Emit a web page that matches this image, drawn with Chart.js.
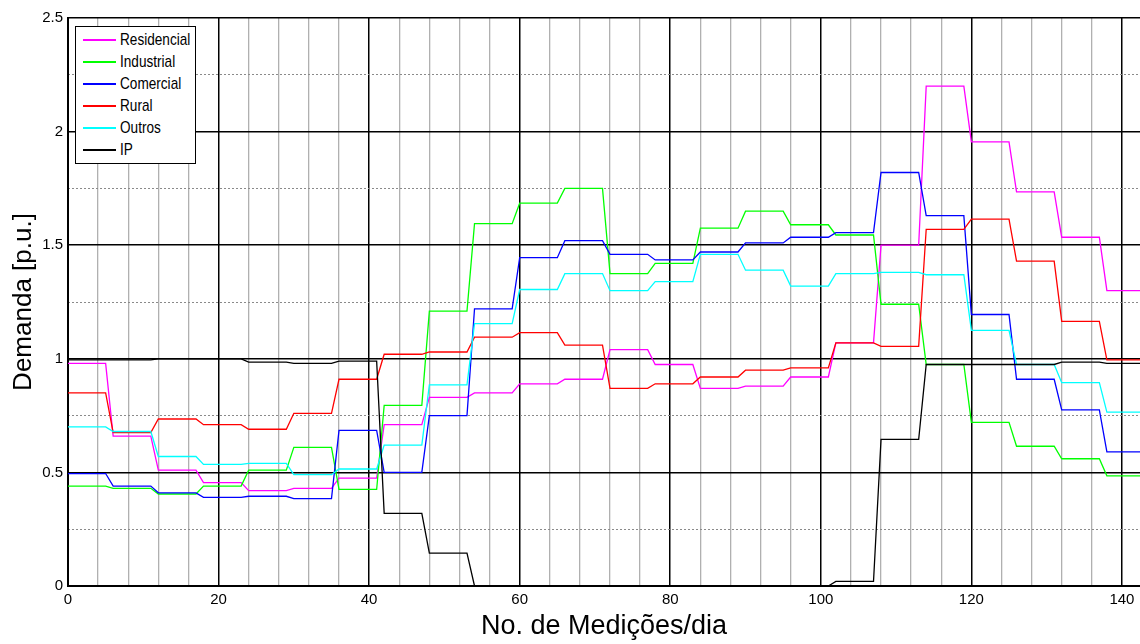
<!DOCTYPE html>
<html>
<head>
<meta charset="utf-8">
<script src="https://cdn.jsdelivr.net/npm/chart.js@4.4.1/dist/chart.umd.min.js"></script>
<style>
  html, body { margin: 0; padding: 0; background: #fff; }
  #wrap { position: relative; width: 1140px; height: 644px; }
  #legend { position: absolute; left: 75px; top: 26px; width: 119px; height: 136px;
            border: 1.5px solid #000; background: #fff;
            font-family: "Liberation Sans", Arial, sans-serif; }
  .row { position: absolute; left: 0; width: 119px; height: 22px; }
  .row .ln { position: absolute; left: 7px; width: 33px; top: 10px; height: 2px; }
  .row .tx { position: absolute; left: 44px; top: 0; font-size: 17px; line-height: 22px;
             transform: scaleX(0.8); transform-origin: left center; white-space: nowrap; color: #000; }
</style>
</head>
<body>
<div id="wrap">
  <canvas id="demandChart" width="1140" height="644"></canvas>
  <div id="legend"></div>
</div>
<script>
// one value per hour, 6 measurements per hour (144 per day)
const seriesNames = ['Residencial', 'Industrial', 'Comercial', 'Rural', 'Outros', 'IP'];
const hourStart = [0, 6, 12, 18, 24, 30, 36, 42, 48, 54, 60, 66,
                   72, 78, 84, 90, 96, 102, 108, 114, 120, 126, 132, 138];

const residencial = [0.98, 0.66, 0.51, 0.455, 0.42, 0.43, 0.475, 0.71, 0.83, 0.85, 0.89, 0.91,
                     1.04, 0.975, 0.87, 0.88, 0.92, 1.07, 1.50, 2.20, 1.955, 1.735, 1.535, 1.30];
const industrial  = [0.44, 0.43, 0.405, 0.44, 0.51, 0.61, 0.425, 0.795, 1.21, 1.595, 1.685, 1.75,
                     1.375, 1.42, 1.575, 1.65, 1.59, 1.545, 1.24, 0.975, 0.72, 0.615, 0.56, 0.485];
const comercial   = [0.495, 0.44, 0.41, 0.39, 0.395, 0.385, 0.685, 0.50, 0.75, 1.22, 1.445, 1.52,
                     1.46, 1.435, 1.47, 1.51, 1.535, 1.555, 1.82, 1.63, 1.195, 0.91, 0.775, 0.59];
const rural       = [0.85, 0.675, 0.735, 0.71, 0.69, 0.76, 0.91, 1.02, 1.03, 1.095, 1.115, 1.06,
                     0.87, 0.89, 0.92, 0.95, 0.96, 1.07, 1.055, 1.57, 1.615, 1.43, 1.165, 0.995];
const outros      = [0.70, 0.68, 0.57, 0.535, 0.54, 0.49, 0.515, 0.62, 0.885, 1.155, 1.305, 1.375,
                     1.30, 1.34, 1.46, 1.39, 1.32, 1.375, 1.38, 1.37, 1.125, 0.975, 0.895, 0.765];
const ip          = [0.995, 0.995, 1.0, 1.0, 0.985, 0.98, 0.99, 0.32, 0.145, 0, 0, 0,
                     0, 0, 0, 0, 0, 0.02, 0.645, 0.975, 0.975, 0.975, 0.985, 0.98];

const xTickLabels = [0, 20, 40, 60, 80, 100, 120, 140];
const yTickLabels = [0, 0.5, 1, 1.5, 2, 2.5];

const allSeries = [residencial, industrial, comercial, rural, outros, ip];
const lineColors = ['#ff00ff', '#00ff00', '#0000ff', '#ff0000', '#00ffff', '#000000'];

// each hour is held flat over its 6 samples (start .. start+5)
function toPoints(values) {
  const pts = [];
  hourStart.forEach((s, i) => {
    pts.push({ x: s, y: values[i] });
    pts.push({ x: s + 5, y: values[i] });
  });
  return pts;
}

const datasets = allSeries.map((vals, i) => ({
  label: seriesNames[i],
  data: toPoints(vals),
  borderColor: lineColors[i],
  borderWidth: 1.3,
  pointRadius: 0,
  tension: 0,
  fill: false,
  order: allSeries.length - i   // later series drawn on top, like matlab
}));

const font = '"Liberation Sans", Arial, sans-serif';

const ctx = document.getElementById('demandChart').getContext('2d');
const demandChart = new Chart(ctx, {
  type: 'line',
  data: { datasets: datasets },
  options: {
    responsive: false,
    animation: false,
    devicePixelRatio: 1,
    layout: { padding: { top: 18, right: 0, left: 0, bottom: 0 } },
    plugins: { legend: { display: false }, tooltip: { enabled: false } },
    scales: {
      x: {
        type: 'linear',
        min: 0,
        max: 142.4,
        ticks: {
          stepSize: 4,
          autoSkip: false,
          maxRotation: 0,
          includeBounds: false,
          padding: 5,
          color: '#000',
          font: { family: font, size: 15 },
          callback: v => xTickLabels.includes(v) ? String(v) : ''
        },
        grid: {
          drawTicks: false,
          color: c => xTickLabels.includes(c.tick.value) ? '#000' : '#b0b0b0',
          lineWidth: c => xTickLabels.includes(c.tick.value) ? 1.5 : 1.3
        },
        border: { color: '#000', width: 2 },
        title: {
          display: true,
          text: 'No. de Medições/dia',
          color: '#000',
          font: { family: font, size: 27 },
          padding: { top: 0, bottom: 1 }
        },
        afterFit: s => { s.height = 58; }
      },
      y: {
        min: 0,
        max: 2.5,
        ticks: {
          stepSize: 0.5,
          padding: 5,
          color: '#000',
          font: { family: font, size: 15 },
          callback: v => yTickLabels.includes(v) ? String(v) : ''
        },
        grid: { drawTicks: false, color: '#000', lineWidth: 1.5 },
        border: { color: '#000', width: 2 },
        title: {
          display: true,
          text: 'Demanda [p.u.]',
          color: '#000',
          font: { family: font, size: 26 },
          padding: { top: 8, bottom: 0 }
        },
        afterFit: s => { s.width = 68; }
      },
      yMinor: {
        position: 'left',
        min: 0,
        max: 2.5,
        ticks: { stepSize: 0.25, display: false },
        grid: {
          drawTicks: false,
          color: c => yTickLabels.includes(c.tick.value) ? 'rgba(0,0,0,0)' : '#8a8a8a',
          lineWidth: 1
        },
        border: { display: false, dash: [2, 2] }
      }
    }
  }
});

// legend box, top-left inside the axes
const legendDiv = document.getElementById('legend');
seriesNames.forEach((name, i) => {
  const row = document.createElement('div');
  row.className = 'row';
  row.style.top = (2 + 22 * i) + 'px';
  row.innerHTML = '<span class="ln" style="background:' + lineColors[i] + '"></span>' +
                  '<span class="tx">' + name + '</span>';
  legendDiv.appendChild(row);
});
</script>
</body>
</html>
